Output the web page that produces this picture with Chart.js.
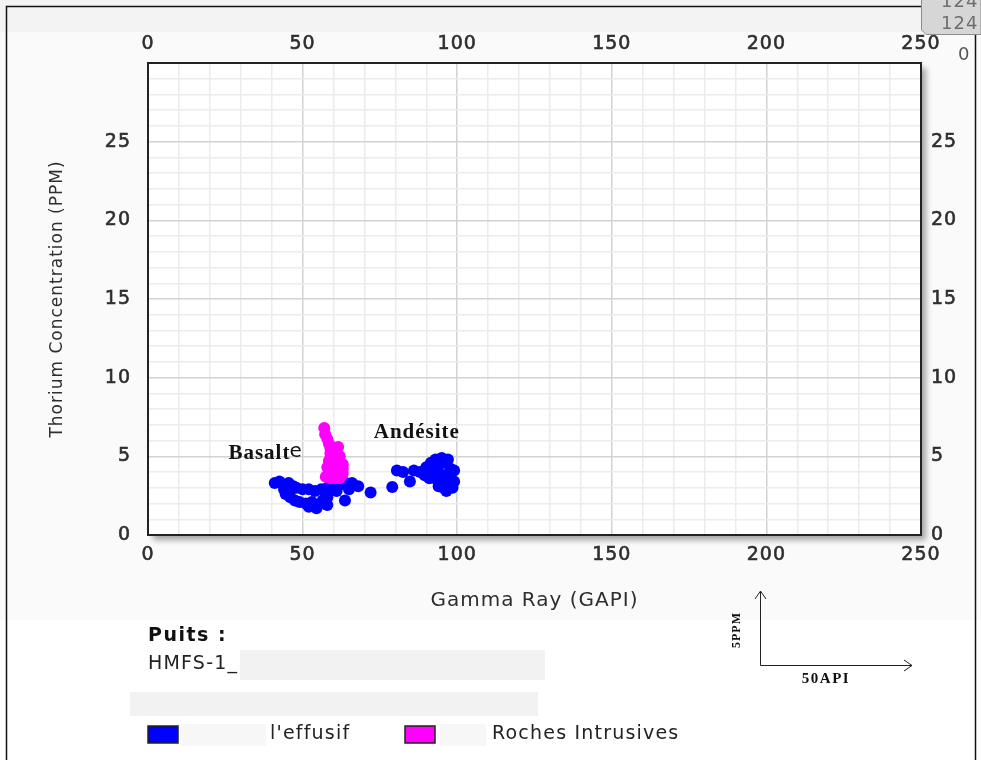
<!DOCTYPE html>
<html>
<head>
<meta charset="utf-8">
<script src="https://cdn.jsdelivr.net/npm/chart.js@4.4.1/dist/chart.umd.min.js"></script>
<style>
  html, body { margin: 0; padding: 0; background: #fff; }
  canvas { display: block; }
</style>
</head>
<body>
<canvas id="myChart" width="981" height="760"></canvas>
<script>
// axis ticks that carry a label
const xTicks = [0, 50, 100, 150, 200, 250];
const yTicks = [0, 5, 10, 15, 20, 25];

const seriesNames = ["l'effusif", 'Roches Intrusives'];
const seriesColors = ['#0000ff', '#ff00ff'];

// Gamma Ray (GAPI) / Thorium (PPM) - effusif (blue)
const effusifGR = [41, 42.5, 44, 45.5, 47, 44, 46, 48, 50, 52, 54, 56, 58,
  44.5, 46, 47.5, 49, 51, 53, 55, 56.5, 58, 58, 52, 54.5,
  60, 62, 64, 66, 68, 61, 63.7, 65,
  72, 79,
  80.5, 82.5, 84.7, 86, 88, 89.5, 90, 91.5, 92, 93, 94, 95, 96, 97, 98,
  91, 92.5, 93.5, 95, 96, 97, 99, 94, 95.5, 97, 98.5, 99, 96.5];
const effusifTh = [3.3, 3.4, 3.2, 3.3, 3.1, 2.9, 2.8, 3.0, 2.9, 2.9, 2.8, 2.9, 3.0,
  2.6, 2.4, 2.2, 2.1, 2.0, 2.1, 1.9, 2.2, 1.9, 2.4, 1.8, 1.7,
  3.0, 3.2, 3.3, 3.3, 3.1, 2.8, 2.2, 2.9,
  2.7, 3.05,
  4.1, 4.0, 3.4, 4.1, 4.0, 3.8, 4.3, 4.6, 4.2, 4.8, 4.4, 4.9, 4.6, 4.8, 4.2,
  3.6, 3.9, 3.5, 3.8, 3.4, 3.9, 4.1, 3.1, 3.0, 3.2, 3.0, 3.4, 2.8];

// Roches intrusives (magenta)
const intrusifGR = [57, 57.3, 58, 58.5, 59.5, 60.5, 59, 61, 60, 61.5, 62, 60.5, 61, 62.5,
  59.5, 58.5, 60, 61.5, 62.5, 57.5, 59, 60.5, 62, 63, 58,
  59, 61.5, 62, 58.5, 59, 63, 63];
const intrusifTh = [6.8, 6.4, 6.1, 5.8, 5.6, 5.4, 5.2, 5.1, 4.9, 4.8, 4.5, 4.6, 4.3, 4.2,
  4.2, 4.0, 3.9, 3.9, 3.8, 3.7, 3.6, 3.6, 3.6, 3.9, 4.3,
  5.5, 5.6, 5.0, 4.7, 4.9, 4.5, 4.2];

const toPoints = (xs, ys) => xs.map((x, i) => ({ x: x, y: ys[i] }));

const tickColor = '#2e2e2e';
const tickFont = { family: 'DejaVu Sans', size: 19 };

function gridColor(major) {
  return (c) => (c.tick && major.includes(c.tick.value)) ? '#d2d2d2' : '#ececec';
}

const decor = {
  id: 'decor',
  beforeDraw(chart) {
    const { ctx, chartArea: a } = chart;
    ctx.save();
    ctx.fillStyle = '#ffffff';
    ctx.fillRect(0, 0, 981, 760);
    ctx.fillStyle = '#fafafa';
    ctx.fillRect(0, 0, 981, 620);
    ctx.fillStyle = '#f3f3f3';
    ctx.fillRect(0, 0, 981, 32);
    ctx.shadowColor = 'rgba(0,0,0,0.35)';
    ctx.shadowBlur = 6;
    ctx.shadowOffsetX = 5;
    ctx.shadowOffsetY = 5;
    ctx.fillStyle = '#ffffff';
    ctx.fillRect(a.left, a.top, a.right - a.left, a.bottom - a.top);
    ctx.restore();
    ctx.letterSpacing = '1px';
  },
  afterDatasetsDraw(chart) {
    const { ctx, scales: { x, y } } = chart;
    ctx.save();
    ctx.fillStyle = '#111';
    ctx.textBaseline = 'middle';
    ctx.letterSpacing = '1px';
    ctx.font = 'bold 21px "Liberation Serif"';
    const bx = x.getPixelForValue(26), by = y.getPixelForValue(5.2);
    ctx.fillText('Basalt', bx, by);
    const w = ctx.measureText('Basalt').width;
    ctx.font = '20px "DejaVu Sans"';
    ctx.letterSpacing = '0px';
    ctx.fillText('e', bx + w - 1, by - 1);
    ctx.letterSpacing = '1px';
    ctx.font = 'bold 21px "Liberation Serif"';
    ctx.fillText('Andésite', x.getPixelForValue(73), y.getPixelForValue(6.5));
    ctx.restore();
  },
  afterDraw(chart) {
    const { ctx } = chart;
    ctx.save();
    // outer frame
    ctx.strokeStyle = '#111';
    ctx.lineWidth = 1.5;
    ctx.beginPath();
    ctx.moveTo(6.5, 760); ctx.lineTo(6.5, 6.5); ctx.lineTo(921, 6.5);
    ctx.moveTo(975.5, 0); ctx.lineTo(975.5, 760);
    ctx.stroke();

    // corner box
    ctx.fillStyle = '#d6d6d6';
    ctx.strokeStyle = '#8c8c8c';
    ctx.lineWidth = 1;
    ctx.beginPath();
    ctx.moveTo(921.5, -2); ctx.lineTo(921.5, 30); ctx.lineTo(926, 34.5); ctx.lineTo(981, 34.5); ctx.lineTo(981, -2);
    ctx.fill(); ctx.stroke();
    ctx.fillStyle = '#6e6e6e';
    ctx.font = '18px "DejaVu Sans"';
    ctx.letterSpacing = '1px';
    ctx.textAlign = 'left';
    ctx.textBaseline = 'middle';
    ctx.fillText('124', 941, 24);
    ctx.fillText('124', 941, 2);
    ctx.fillStyle = '#555';
    ctx.fillText('0', 958, 55);

    // well info
    ctx.fillStyle = '#f2f2f2';
    ctx.fillRect(240, 650, 305, 30);
    ctx.fillRect(130, 692, 408, 24);
    ctx.fillStyle = '#f7f7f7';
    ctx.fillRect(180, 724, 86, 22);
    ctx.fillRect(440, 724, 46, 22);

    ctx.fillStyle = '#111';
    ctx.letterSpacing = '1.5px';
    ctx.font = 'bold 19px "DejaVu Sans"';
    ctx.fillText('Puits :', 148, 636);
    ctx.font = '19px "DejaVu Sans"';
    ctx.letterSpacing = '1.2px';
    ctx.fillStyle = '#222';
    ctx.fillText('HMFS-1_', 148, 664);

    // legend
    const boxX = [148, 405];
    const textX = [270, 492];
    chart.data.datasets.forEach((ds, i) => {
      ctx.fillStyle = ds.backgroundColor;
      ctx.fillRect(boxX[i], 726, 30, 17);
      ctx.strokeStyle = '#222';
      ctx.lineWidth = 1.5;
      ctx.strokeRect(boxX[i], 726, 30, 17);
      ctx.fillStyle = '#222';
      ctx.fillText(ds.label, textX[i], 734);
    });

    // scale bar
    ctx.strokeStyle = '#222';
    ctx.lineWidth = 1;
    ctx.beginPath();
    ctx.moveTo(760.5, 665.5); ctx.lineTo(760.5, 591);
    ctx.moveTo(755, 599); ctx.lineTo(760.5, 591); ctx.lineTo(766, 599);
    ctx.moveTo(760.5, 665.5); ctx.lineTo(912, 665.5);
    ctx.moveTo(904, 660); ctx.lineTo(912, 665.5); ctx.lineTo(904, 671);
    ctx.stroke();
    ctx.fillStyle = '#111';
    ctx.font = 'bold 15px "Liberation Serif"';
    ctx.letterSpacing = '1.5px';
    ctx.textAlign = 'center';
    ctx.fillText('50API', 826, 679);
    ctx.translate(737, 630);
    ctx.rotate(-Math.PI / 2);
    ctx.font = 'bold 12px "Liberation Serif"';
    ctx.letterSpacing = '1px';
    ctx.fillText('5PPM', 0, 0);
    ctx.restore();
  }
};

new Chart(document.getElementById('myChart'), {
  type: 'scatter',
  data: {
    datasets: [
      {
        label: seriesNames[0],
        data: toPoints(effusifGR, effusifTh),
        backgroundColor: seriesColors[0],
        borderWidth: 0,
        pointRadius: 6,
        pointHoverRadius: 6,
        order: 1
      },
      {
        label: seriesNames[1],
        data: toPoints(intrusifGR, intrusifTh),
        backgroundColor: seriesColors[1],
        borderWidth: 0,
        pointRadius: 6,
        pointHoverRadius: 6,
        order: 0
      }
    ]
  },
  options: {
    responsive: false,
    animation: false,
    layout: { padding: { left: 43, right: 0, top: 25, bottom: 145 } },
    plugins: { legend: { display: false }, tooltip: { enabled: false } },
    scales: {
      x: {
        type: 'linear', position: 'bottom', min: 0, max: 250,
        ticks: { stepSize: 10, autoSkip: false, maxRotation: 0, padding: 9, color: tickColor, font: tickFont,
          textStrokeColor: tickColor, textStrokeWidth: 0.6,
          callback: (v) => xTicks.includes(v) ? v : '' },
        grid: { color: gridColor(xTicks), drawTicks: false, lineWidth: 1.5 },
        border: { display: true, color: '#222', width: 2 },
        title: { display: true, text: 'Gamma Ray (GAPI)', color: tickColor,
          font: { family: 'DejaVu Sans', size: 20 }, padding: { top: 4, bottom: 2 } },
        afterFit: (s) => { s.height = 80; }
      },
      x2: {
        type: 'linear', position: 'top', min: 0, max: 250,
        ticks: { stepSize: 10, autoSkip: false, maxRotation: 0, padding: 8, color: tickColor, font: tickFont,
          textStrokeColor: tickColor, textStrokeWidth: 0.6,
          callback: (v) => xTicks.includes(v) ? v : '' },
        grid: { display: false, drawTicks: false },
        border: { display: true, color: '#222', width: 2 },
        afterFit: (s) => { s.height = 38; }
      },
      y: {
        type: 'linear', position: 'left', min: 0, max: 30,
        ticks: { stepSize: 1, autoSkip: false, padding: 17, color: tickColor, font: tickFont,
          textStrokeColor: tickColor, textStrokeWidth: 0.6,
          callback: (v) => yTicks.includes(v) ? v : '' },
        grid: { color: gridColor(yTicks), drawTicks: false, lineWidth: 1.5 },
        border: { display: true, color: '#222', width: 2 },
        title: { display: true, text: 'Thorium Concentration (PPM)', color: tickColor,
          font: { family: 'DejaVu Sans', size: 17 }, padding: { top: 4, bottom: 4 } },
        afterFit: (s) => { s.width = 105; }
      },
      y2: {
        type: 'linear', position: 'right', min: 0, max: 30,
        ticks: { stepSize: 1, autoSkip: false, padding: 10, color: tickColor, font: tickFont,
          textStrokeColor: tickColor, textStrokeWidth: 0.6,
          callback: (v) => yTicks.includes(v) ? v : '' },
        grid: { display: false, drawTicks: false },
        border: { display: true, color: '#222', width: 2 },
        afterFit: (s) => { s.width = 60; }
      }
    }
  },
  plugins: [decor]
});
</script>
</body>
</html>
